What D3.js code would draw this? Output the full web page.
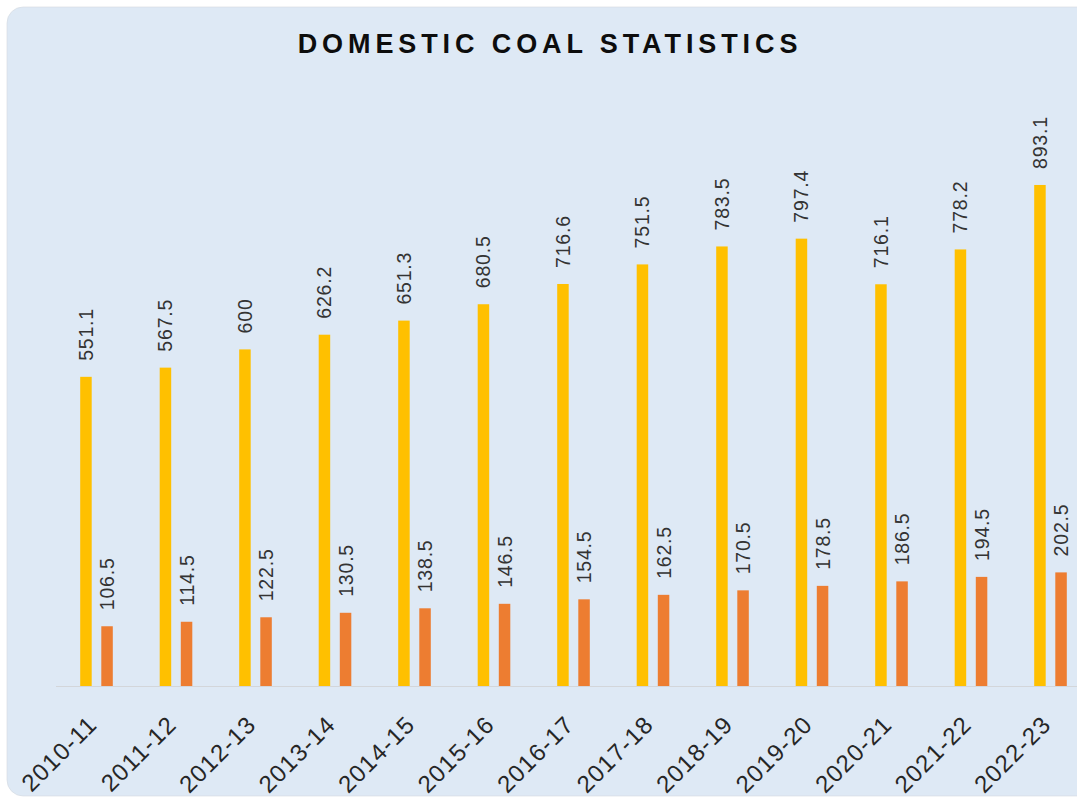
<!DOCTYPE html>
<html>
<head>
<meta charset="utf-8">
<script src="https://cdn.jsdelivr.net/npm/d3@7"></script>
<style>
  html, body { margin: 0; padding: 0; background: #ffffff; }
  svg { display: block; }
</style>
</head>
<body>
<script>
// Domestic coal statistics, two series per financial year
const categories = ["2010-11","2011-12","2012-13","2013-14","2014-15","2015-16","2016-17",
                    "2017-18","2018-19","2019-20","2020-21","2021-22","2022-23"];
const seriesA = [551.1, 567.5, 600, 626.2, 651.3, 680.5, 716.6, 751.5, 783.5, 797.4, 716.1, 778.2, 893.1];
const seriesB = [106.5, 114.5, 122.5, 130.5, 138.5, 146.5, 154.5, 162.5, 170.5, 178.5, 186.5, 194.5, 202.5];
const seriesColors = ["#FFC000", "#ED7D31"];
const yDomain = [0, 1000];

const W = 1077, H = 801;
const svg = d3.select("body").append("svg").attr("width", W).attr("height", H);

// card background
svg.append("rect")
  .attr("x", 7).attr("y", 7).attr("width", 1090).attr("height", 789)
  .attr("rx", 16).attr("ry", 16)
  .attr("fill", "#dee9f5")
  .attr("stroke", "#d4d9df").attr("stroke-width", 0.6);

// title
svg.append("text")
  .attr("x", 550).attr("y", 53)
  .attr("text-anchor", "middle")
  .attr("font-family", "Liberation Sans, Arial, sans-serif")
  .attr("font-weight", "bold")
  .attr("font-size", 27)
  .attr("letter-spacing", 4.9)
  .attr("fill", "#0d0d0d")
  .text("DOMESTIC COAL STATISTICS");

const baseY = 686;
const x = d3.scaleBand().domain(categories).range([56.75, 1090.25]).padding(0);
const y = d3.scaleLinear().domain(yDomain).range([baseY, 125]);

const barW = 11.5;
const offsets = [-16.3, 4.8];
const series = [seriesA, seriesB];

// axis line
svg.append("line")
  .attr("x1", 56).attr("x2", W).attr("y1", baseY + 0.5).attr("y2", baseY + 0.5)
  .attr("stroke", "#d3d6da").attr("stroke-width", 1.2);

series.forEach((vals, si) => {
  const g = svg.append("g");
  const rows = categories.map((c, i) => ({ c, v: vals[i] }));
  g.selectAll("rect").data(rows).enter().append("rect")
    .attr("x", d => x(d.c) + x.bandwidth() / 2 + offsets[si])
    .attr("y", d => y(d.v))
    .attr("width", barW)
    .attr("height", d => baseY - y(d.v))
    .attr("fill", seriesColors[si]);

  g.selectAll("text").data(rows).enter().append("text")
    .attr("transform", d => {
      const cx = x(d.c) + x.bandwidth() / 2 + offsets[si] + barW / 2;
      return `translate(${cx},${y(d.v) - 16}) rotate(-90)`;
    })
    .attr("dy", "0.36em")
    .attr("text-anchor", "start")
    .attr("font-family", "Liberation Sans, Arial, sans-serif")
    .attr("font-size", 19.5)
    .attr("letter-spacing", 0.8)
    .attr("fill", "#333333")
    .text(d => d.v);
});

// category labels
const xAxis = d3.axisBottom(x).tickSize(0).tickPadding(0);
const axisG = svg.append("g").attr("transform", `translate(0,${baseY})`).call(xAxis);
axisG.select(".domain").remove();
axisG.selectAll("text")
  .attr("transform", "translate(2,40) rotate(-45)")
  .attr("y", 0).attr("dy", 0)
  .attr("text-anchor", "end")
  .attr("font-family", "Liberation Sans, Arial, sans-serif")
  .attr("font-size", 24)
  .attr("letter-spacing", 1.2)
  .attr("fill", "#262626");
</script>
</body>
</html>
